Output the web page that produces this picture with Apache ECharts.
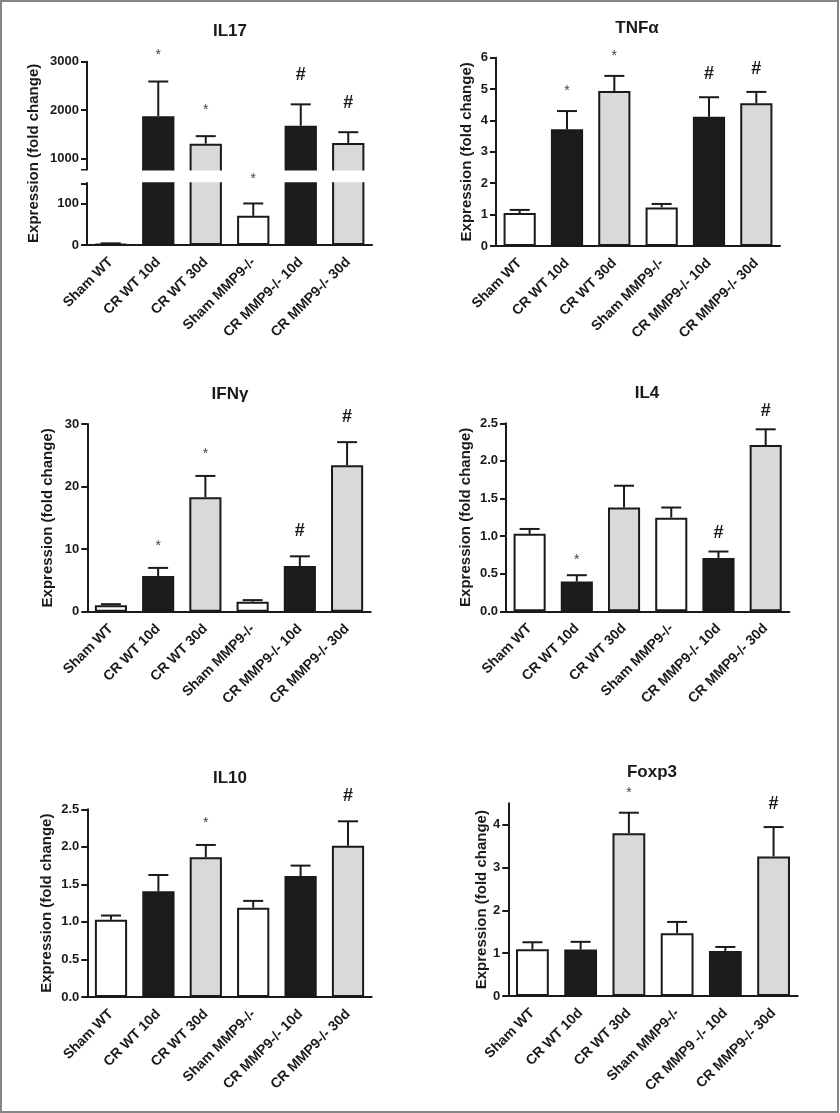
<!DOCTYPE html>
<html><head><meta charset="utf-8">
<script src="https://cdn.jsdelivr.net/npm/echarts@6/dist/echarts.min.js"></script>
<style>
html,body{margin:0;padding:0;background:#fff;}
#wrap{position:relative;width:840px;height:1113px;}
#chart{width:840px;height:1113px;}
#frame{position:absolute;left:0;top:0;width:835px;height:1109px;border:2px solid #858585;pointer-events:none;}
</style></head><body>
<div id="wrap"><div id="chart"></div><div id="frame"></div></div>
<script>
// ---------- DATA ----------
const categories = ['Sham WT', 'CR WT 10d', 'CR WT 30d', 'Sham MMP9-/-', 'CR MMP9-/- 10d', 'CR MMP9-/- 30d'];
const categoriesFoxp3 = ['Sham WT', 'CR WT 10d', 'CR WT 30d', 'Sham MMP9-/-', 'CR MMP9 -/- 10d', 'CR MMP9-/- 30d'];

const il17Mean = [3, 1870, 1305, 71, 1675, 1320];
const il17Err = [1, 720, 155, 30, 443, 222];
const il17Marks = ['', '*', '*', '*', '#', '#'];
const il17UpperTicks = [1000, 2000, 3000];
const il17LowerTicks = [0, 100];
const il17BreakLow = 150;
const il17BreakHigh = 775;

const tnfMean = [1.05, 3.72, 4.94, 1.23, 4.12, 4.55];
const tnfErr = [0.1, 0.58, 0.48, 0.11, 0.62, 0.36];
const tnfMarks = ['', '*', '*', '', '#', '#'];
const tnfTicks = [0, 1, 2, 3, 4, 5, 6];

const ifnMean = [1.05, 5.7, 18.3, 1.6, 7.3, 23.4];
const ifnErr = [0.15, 1.3, 3.4, 0.25, 1.55, 3.7];
const ifnMarks = ['', '*', '*', '', '#', '#'];
const ifnTicks = [0, 10, 20, 30];

const il4Mean = [1.03, 0.395, 1.38, 1.245, 0.71, 2.21];
const il4Err = [0.065, 0.085, 0.29, 0.135, 0.085, 0.21];
const il4Marks = ['', '*', '', '', '#', '#'];
const il4Ticks = [0, 0.5, 1.0, 1.5, 2.0, 2.5];

const il10Mean = [1.03, 1.41, 1.86, 1.19, 1.61, 2.015];
const il10Err = [0.055, 0.215, 0.165, 0.09, 0.14, 0.325];
const il10Marks = ['', '', '*', '', '', '#'];
const il10Ticks = [0, 0.5, 1.0, 1.5, 2.0, 2.5];

const foxMean = [1.09, 1.085, 3.8, 1.465, 1.05, 3.26];
const foxErr = [0.165, 0.18, 0.48, 0.265, 0.095, 0.685];
const foxMarks = ['', '', '*', '', '', '#'];
const foxTicks = [0, 1, 2, 3, 4];

const yName = 'Expression (fold change)';

// ---------- STYLE ----------
const INK = '#1a1a1a';
const FONT = "'Liberation Sans', Arial, sans-serif";
const fills = ['#ffffff', '#1c1c1c', '#d9d9d9', '#ffffff', '#1c1c1c', '#d9d9d9'];

const grids = [], xAxes = [], yAxes = [], series = [], titles = [], graphics = [];

function addTitle(text, cx, cy) {
  titles.push({ text, left: cx, top: cy - 10, textAlign: 'center', padding: 0,
    textStyle: { fontSize: 17, fontWeight: 'bold', color: INK, fontFamily: FONT } });
}
function xAxisCfg(gi, cats, show) {
  return {
    type: 'category', gridIndex: gi, data: cats, show,
    axisLine: { lineStyle: { color: INK, width: 2 } },
    axisTick: { alignWithLabel: true, length: 6, lineStyle: { color: INK, width: 2 } },
    axisLabel: { rotate: 45, fontSize: 14, fontWeight: 'bold', color: INK, margin: 15, fontFamily: FONT, interval: 0 },
    splitLine: { show: false }
  };
}
function yAxisCfg(gi, min, max, tickVals, labelVals, dec) {
  return {
    type: 'value', gridIndex: gi, min, max,
    axisLine: { show: true, lineStyle: { color: INK, width: 2 } },
    axisTick: { show: true, length: 6, customValues: tickVals, lineStyle: { color: INK, width: 2 } },
    axisLabel: { fontSize: 13, fontWeight: 'bold', color: INK, margin: 8, fontFamily: FONT,
      customValues: labelVals, formatter: v => Number(v).toFixed(dec) },
    splitLine: { show: false }
  };
}
function barSeries(gi, data) {
  return {
    type: 'bar', xAxisIndex: gi, yAxisIndex: gi, data, barWidth: '68%', z: 2,
    itemStyle: { color: p => fills[p.dataIndex], borderColor: INK, borderWidth: 2 },
    silent: true, animation: false
  };
}
function errSeries(gi, mean, err, marks, gap, keep, z) {
  const data = [];
  mean.forEach((m, i) => { if (keep(m, err[i])) data.push([i, m, err[i]]); });
  return {
    type: 'custom', xAxisIndex: gi, yAxisIndex: gi, data, z: z || 3, silent: true, animation: false,
    encode: { x: 0, y: 1 },
    renderItem: (params, api) => {
      const i = api.value(0), m = api.value(1), e = api.value(2);
      const p0 = api.coord([i, m]);
      const p1 = api.coord([i, m + e]);
      const children = [
        { type: 'line', shape: { x1: p0[0], y1: p0[1], x2: p1[0], y2: p1[1] }, style: { stroke: INK, lineWidth: 2 } },
        { type: 'line', shape: { x1: p1[0] - 10, y1: p1[1], x2: p1[0] + 10, y2: p1[1] }, style: { stroke: INK, lineWidth: 2 } }
      ];
      const mk = marks[i];
      if (mk) {
        const star = mk === '*';
        children.push({ type: 'text', x: p1[0], y: p1[1] - gap + (star ? 3 : 0),
          style: { text: mk, align: 'center', verticalAlign: 'middle',
            fontSize: star ? 14 : 18, fontWeight: star ? 'normal' : 'bold',
            fontFamily: FONT, fill: star ? '#444' : INK } });
      }
      return { type: 'group', children };
    }
  };
}
function addPanel(p) {
  const gi = grids.length;
  grids.push({ left: p.left, top: p.top, width: p.width, height: p.height });
  xAxes.push(xAxisCfg(gi, p.cats, true));
  const y = yAxisCfg(gi, p.min, p.max, p.ticks, p.ticks, p.dec);
  y.name = yName; y.nameLocation = 'middle'; y.nameGap = p.nameGap;
  y.nameTextStyle = { fontSize: 15, fontWeight: 'bold', color: INK, fontFamily: FONT };
  yAxes.push(y);
  series.push(barSeries(gi, p.mean));
  series.push(errSeries(gi, p.mean, p.err, p.marks, p.gap, () => true));
  addTitle(p.title, p.tx, p.ty);
}

// ---------- IL17 (broken axis) ----------
(function () {
  const left = 87, width = 285;
  // upper part
  const gu = grids.length;
  grids.push({ left, top: 61.7, width, height: 111.2 });
  xAxes.push(xAxisCfg(gu, categories, false));
  yAxes.push(yAxisCfg(gu, 700, 3000, [il17BreakHigh].concat(il17UpperTicks), il17UpperTicks, 0));
  series.push(barSeries(gu, il17Mean.map(v => v > il17BreakHigh ? v : '-')));
  series.push(errSeries(gu, il17Mean, il17Err, il17Marks, 29, m => m > il17BreakHigh));
  // lower part
  const gl = grids.length;
  grids.push({ left, top: 179.2, width, height: 65.8 });
  xAxes.push(xAxisCfg(gl, categories, true));
  yAxes.push(yAxisCfg(gl, 0, 160, il17LowerTicks.concat([il17BreakLow]), il17LowerTicks, 0));
  series.push(barSeries(gl, il17Mean));
  series.push(errSeries(gl, il17Mean, il17Err, il17Marks, 27, (m, e) => m + e < il17BreakLow, 200));
  // name-only axis spanning both parts
  const gg = grids.length;
  grids.push({ left, top: 61.7, width, height: 183.3 });
  xAxes.push({ type: 'category', gridIndex: gg, show: false, data: categories });
  yAxes.push({ type: 'value', gridIndex: gg, min: 0, max: 1, axisLine: { show: false }, axisTick: { show: false },
    axisLabel: { show: false }, splitLine: { show: false },
    name: yName, nameLocation: 'middle', nameGap: 46,
    nameTextStyle: { fontSize: 15, fontWeight: 'bold', color: INK, fontFamily: FONT } });
  graphics.push({ type: 'rect', z: 100, shape: { x: 76, y: 170.5, width: 300, height: 11.8 }, style: { fill: '#fff' } });
  addTitle('IL17', 230, 33);
})();

addPanel({ title: 'TNF\u03b1', tx: 637, ty: 30, cats: categories, mean: tnfMean, err: tnfErr, marks: tnfMarks,
  min: 0, max: 6, ticks: tnfTicks, dec: 0, left: 496, top: 57.7, width: 284, height: 188.3, nameGap: 22, gap: 23 });
addPanel({ title: 'IFN\u03b3', tx: 230, ty: 396, cats: categories, mean: ifnMean, err: ifnErr, marks: ifnMarks,
  min: 0, max: 30, ticks: ifnTicks, dec: 0, left: 87.3, top: 424, width: 283.4, height: 187.7, nameGap: 32, gap: 25 });
addPanel({ title: 'IL4', tx: 647, ty: 395, cats: categories, mean: il4Mean, err: il4Err, marks: il4Marks,
  min: 0, max: 2.5, ticks: il4Ticks, dec: 1, left: 506, top: 423.3, width: 283.3, height: 188, nameGap: 33, gap: 18 });
addPanel({ title: 'IL10', tx: 230, ty: 780, cats: categories, mean: il10Mean, err: il10Err, marks: il10Marks,
  min: 0, max: 2.5, ticks: il10Ticks, dec: 1, left: 87.3, top: 809.3, width: 284.4, height: 187.7, nameGap: 33, gap: 25 });
addPanel({ title: 'Foxp3', tx: 652, ty: 774, cats: categoriesFoxp3, mean: foxMean, err: foxErr, marks: foxMarks,
  min: 0, max: 4.5, ticks: foxTicks, dec: 0, left: 508.3, top: 803.3, width: 289.4, height: 192.7, nameGap: 18, gap: 23 });

const chart = echarts.init(document.getElementById('chart'), null, { renderer: 'canvas' });
chart.setOption({
  backgroundColor: '#ffffff',
  animation: false,
  textStyle: { fontFamily: FONT },
  title: titles, grid: grids, xAxis: xAxes, yAxis: yAxes, series, graphic: graphics
});
</script>
</body></html>
